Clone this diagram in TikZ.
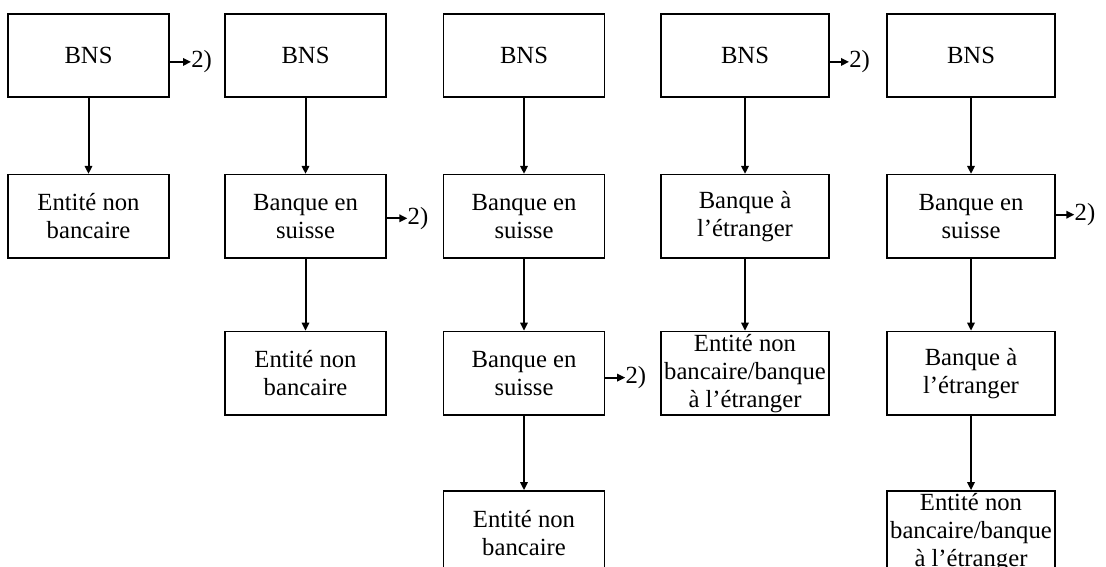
\documentclass[tikz,border=0pt]{standalone}
\usepackage{fontspec}
\setmainfont{Liberation Serif}
\usetikzlibrary{positioning,arrows.meta}
\tikzset{
  box/.style={draw, line width=1.1pt, minimum width=120.75pt, minimum height=62.5pt,
    inner sep=1pt, align=center, font=\fontsize{18.5}{21}\selectfont},
  widebox/.style={box, minimum width=126pt},
  flow/.style={-{Triangle[length=6pt,width=5.5pt]}, line width=1.5pt},
  ref/.style={inner sep=0pt, font=\fontsize{18.5}{21}\selectfont}
}

\begin{document}
\begin{tikzpicture}[x=0.75pt,y=-0.75pt]
      \useasboundingbox (0,0) rectangle (1106,567);
      % top row
      \node[box] (a1) at (88.5,55.5) {BNS};
      \node[box] (b1) at (305.5,55.5) {BNS};
      \node[box] (c1) at (524,55.5) {BNS};
      \node[widebox] (d1) at (745,55.5) {BNS};
      \node[widebox] (e1) at (971,55.5) {BNS};
      % lower boxes
      \node[box, below=57pt of a1] (a2) {Entité non\\bancaire};
      \node[box, below=57pt of b1] (b2) {Banque en\\suisse};
      \node[box, below=54pt of b2] (b3) {Entité non\\bancaire};
      \node[box, below=57pt of c1] (c2) {Banque en\\suisse};
      \node[box, below=54pt of c2] (c3) {Banque en\\suisse};
      \node[box, below=56pt of c3] (c4) {Entité non\\bancaire};
      \node[widebox, below=57pt of d1] (d2) {Banque à\\l’étranger};
      \node[widebox, below=54pt of d2] (d3) {Entité non\\bancaire/banque\\à l’étranger};
      \node[widebox, below=57pt of e1] (e2) {Banque en\\suisse};
      \node[widebox, below=54pt of e2] (e3) {Banque à\\l’étranger};
      \node[widebox, below=56pt of e3] (e4) {Entité non\\bancaire/banque\\à l’étranger};
      % side references
      \node[ref, right=16pt of a1, yshift=-4.8pt] (ra1) {2)};
      \node[ref, right=15.5pt of b2, yshift=-1.5pt] (rb2) {2)};
      \node[ref, right=15pt of c3, yshift=-3.4pt] (rc3) {2)};
      \node[ref, right=14.5pt of d1, yshift=-4.8pt] (rd1) {2)};
      \node[ref, right=14pt of e2, yshift=1.2pt] (re2) {2)};
      % arrows
      \draw[flow] (a1) -- (a2);
      \draw[flow] (b1) -- (b2);
      \draw[flow] (b2) -- (b3);
      \draw[flow] (c1) -- (c2);
      \draw[flow] (c2) -- (c3);
      \draw[flow] (c3) -- (c4);
      \draw[flow] (d1) -- (d2);
      \draw[flow] (d2) -- (d3);
      \draw[flow] (e1) -- (e2);
      \draw[flow] (e2) -- (e3);
      \draw[flow] (e3) -- (e4);
      \draw[flow] (ra1.west -| a1.east) -- (ra1.west);
      \draw[flow] (rb2.west -| b2.east) -- (rb2.west);
      \draw[flow] (rc3.west -| c3.east) -- (rc3.west);
      \draw[flow] (rd1.west -| d1.east) -- (rd1.west);
      \draw[flow] (re2.west -| e2.east) -- (re2.west);
\end{tikzpicture}
\end{document}
